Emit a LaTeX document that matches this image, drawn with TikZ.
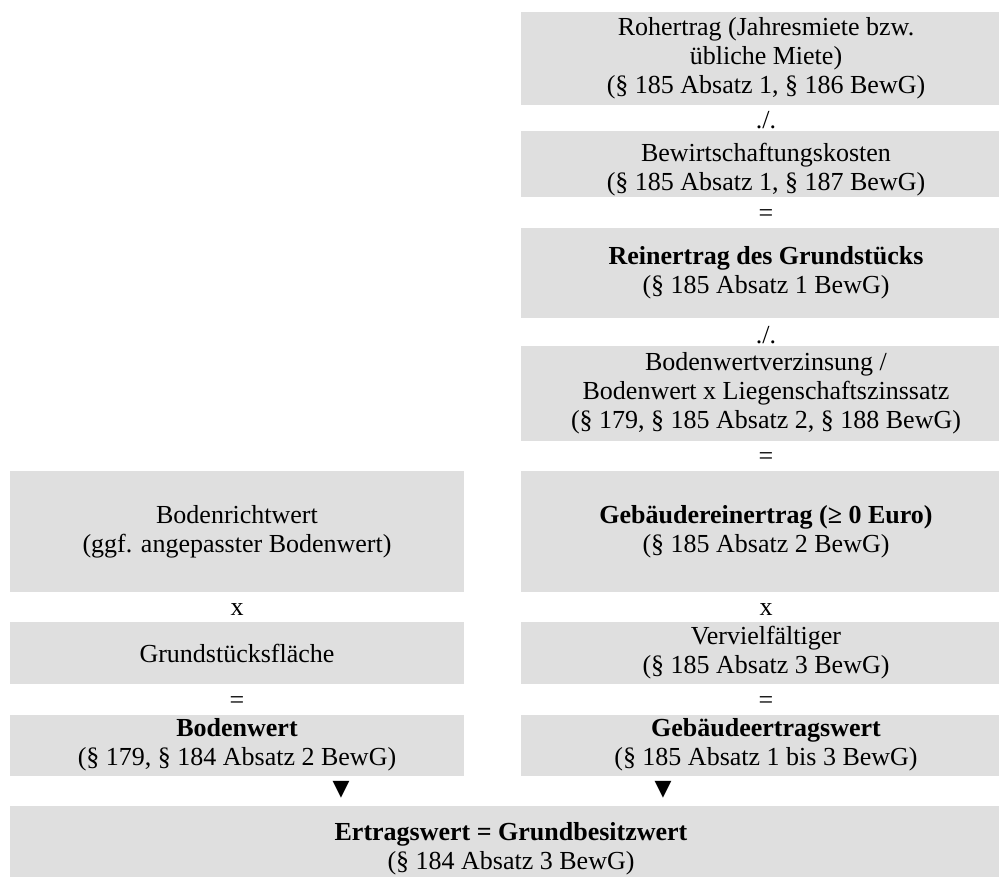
\documentclass[tikz,border=0pt]{standalone}
\usepackage{fontspec}
\setmainfont{Liberation Serif}
\newfontfamily\symbfont{DejaVu Sans}
\usetikzlibrary{calc,positioning}
\definecolor{cellgray}{RGB}{223,223,223}

\begin{document}
\begin{tikzpicture}[
		x=1pt,
		y=-1pt,
		line cap=round,
		line join=round,
		cell/.style={fill=cellgray, inner sep=0pt, align=center,
			font=\fontsize{26}{29}\selectfont},
		op/.style={inner sep=0pt, font=\fontsize{26}{29}\selectfont},
		tri/.style={inner sep=0pt, font=\symbfont\fontsize{22}{22}\selectfont}
		]
		
		\useasboundingbox (0,0) rectangle (999,877);
		
		%------------------------------------------------------------------
		% Right column: Gebaeudeertragswert
		%------------------------------------------------------------------
		\node[cell, minimum width=490pt, minimum height=93pt] (roh) at (766,58.5)
		{Rohertrag (Jahresmiete bzw.\\übliche Miete)\\(§ 185 Absatz 1, § 186 BewG)};
		
		\node[cell, minimum width=490pt, minimum height=66pt] (bwk) at (766,164)
		{\rule{0pt}{29pt}Bewirtschaftungskosten\\(§ 185 Absatz 1, § 187 BewG)};
		
		\node[cell, minimum width=490pt, minimum height=90pt] (rein) at (766,273)
		{\textbf{Reinertrag des Grundstücks}\\(§ 185 Absatz 1 BewG)};
		
		\node[cell, minimum width=490pt, minimum height=95pt] (bvz) at (766,393.5)
		{Bodenwertverzinsung /\\Bodenwert x Liegenschaftszinssatz\\(§ 179, § 185 Absatz 2, § 188 BewG)};
		
		\node[cell, minimum width=490pt, minimum height=121pt] (geb) at (766,531.5)
		{\textbf{Gebäudereinertrag (≥ 0 Euro)}\\(§ 185 Absatz 2 BewG)};
		
		\node[cell, minimum width=490pt, minimum height=62pt] (vvf) at (766,653)
		{Vervielfältiger\\(§ 185 Absatz 3 BewG)};
		
		\node[cell, minimum width=490pt, minimum height=61pt] (gew) at (766,745)
		{\textbf{Gebäudeertragswert}\\(§ 185 Absatz 1 bis 3 BewG)};
		
		%------------------------------------------------------------------
		% Left column: Bodenwert
		%------------------------------------------------------------------
		\node[cell, minimum width=454pt, minimum height=121pt] (brw) at (237,531.5)
		{Bodenrichtwert\\(ggf. angepasster Bodenwert)};
		
		\node[cell, minimum width=454pt, minimum height=62pt] (gsf) at (237,653)
		{Grundstücksfläche};
		
		\node[cell, minimum width=454pt, minimum height=61pt] (bw) at (237,745)
		{\textbf{Bodenwert}\\(§ 179, § 184 Absatz 2 BewG)};
		
		%------------------------------------------------------------------
		% Result
		%------------------------------------------------------------------
		\node[cell, minimum width=1002pt, minimum height=86pt] (ew) at (511,849)
		{\textbf{Ertragswert = Grundbesitzwert}\\(§ 184 Absatz 3 BewG)};
		
		%------------------------------------------------------------------
		% Operators between the cells
		%------------------------------------------------------------------
		\node[op, anchor=base] (minusA) at ($(bwk.north)+(0,-2)$) {./.};
		\node[op] (eqA) at ($(bwk.south)!0.5!(rein.north)+(0,3)$) {=};
		\node[op, anchor=base] (minusB) at ($(bvz.north)+(0,-2)$) {./.};
		\node[op] (eqB) at ($(bvz.south)!0.5!(geb.north)+(0,3)$) {=};
		
		\node[op] (timesR) at ($(geb.south)!0.5!(vvf.north)+(0,3)$) {x};
		\node[op] (eqR)    at ($(vvf.south)!0.5!(gew.north)+(0,3)$) {=};
		\node[op] (timesL) at ($(brw.south)!0.5!(gsf.north)+(0,3)$) {x};
		\node[op] (eqL)    at ($(gsf.south)!0.5!(bw.north)+(0,3)$) {=};
		
		% down markers into the result
		\node[tri] (triL) at (341,790) {▼};
		\node[tri] (triR) at (663,790) {▼};
		
	\end{tikzpicture}
\end{document}
